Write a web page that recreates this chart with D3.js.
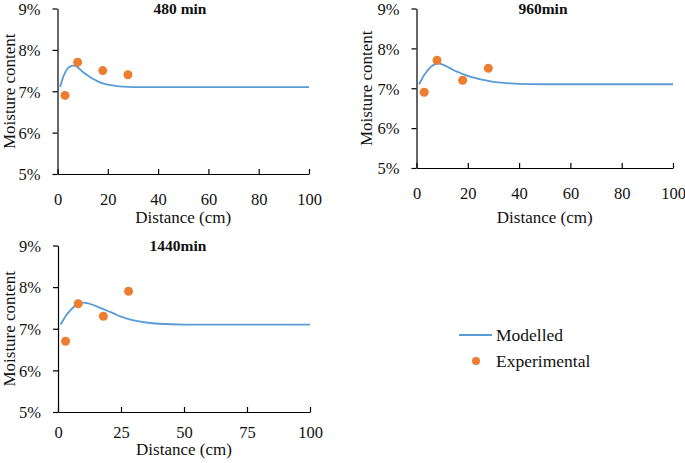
<!DOCTYPE html>
<html><head><meta charset="utf-8">
<script src="https://cdn.jsdelivr.net/npm/d3@7"></script>
<style>
body{margin:0;background:#fff;}
text{font-family:"Liberation Serif","Times New Roman",serif;fill:#111;}
</style></head>
<body><svg id="c" width="685" height="463"></svg>
<script>
// ---- data ----
const titles = ["480 min", "960min", "1440min"];
const model480X = [1,2,3,4,5,6,7,8,10,12,14,16,18,20,23,26,30,35,40,50,70,100];
const model480Y = [7.10,7.30,7.45,7.55,7.60,7.62,7.61,7.58,7.47,7.38,7.30,7.24,7.19,7.16,7.13,7.11,7.10,7.10,7.10,7.10,7.10,7.10];
const model960X = [1,2,3,4,5,6,7,8,9,10,12,14,16,18,20,22,25,30,35,40,50,100];
const model960Y = [7.10,7.22,7.33,7.42,7.50,7.56,7.60,7.62,7.62,7.60,7.54,7.47,7.41,7.36,7.31,7.27,7.22,7.16,7.13,7.11,7.10,7.10];
const model1440X = [1,2,3,4,5,6,7,8,9,10,12,14,16,18,20,22,25,28,30,35,40,50,100];
const model1440Y = [7.10,7.20,7.30,7.38,7.45,7.51,7.56,7.60,7.62,7.63,7.61,7.57,7.52,7.47,7.42,7.37,7.29,7.23,7.20,7.15,7.12,7.10,7.10];
const expX = [3, 8, 18, 28];
const exp480Y = [6.9, 7.7, 7.5, 7.4];
const exp960Y = [6.9, 7.7, 7.2, 7.5];
const exp1440Y = [6.7, 7.6, 7.3, 7.9];
const yTicks = [5, 6, 7, 8, 9];
const xTicksA = [0, 20, 40, 60, 80, 100];
const xTicksB = [0, 25, 50, 75, 100];
const legendLabels = ["Modelled", "Experimental"];

// ---- layout ----
const panels = [
  {title: titles[0], mx: model480X, my: model480Y, ey: exp480Y, xt: xTicksA,
   x0: 57.5, x1: 309, yTop: 8.5, yBot: 174, tx: 180, ty: 9, tickOff: 25, labOff: 43, ylx: 9.5},
  {title: titles[1], mx: model960X, my: model960Y, ey: exp960Y, xt: xTicksA,
   x0: 416.5, x1: 673, yTop: 8.5, yBot: 168, tx: 543, ty: 9, tickOff: 25, labOff: 49, ylx: 366},
  {title: titles[2], mx: model1440X, my: model1440Y, ey: exp1440Y, xt: xTicksB,
   x0: 58, x1: 310, yTop: 245.5, yBot: 412, tx: 178, ty: 246, tickOff: 20, labOff: 37, ylx: 9.5}
];
const blue = "#5B9BD5", orange = "#ED7D31";
const svg = d3.select("#c");
const FS = 16.5;

panels.forEach(p => {
  const x = d3.scaleLinear().domain([0, 100]).range([p.x0, p.x1]);
  const y = d3.scaleLinear().domain([5, 9]).range([p.yBot, p.yTop]);
  const g = svg.append("g");

  // y axis
  const ya = g.append("g").attr("transform", `translate(${p.x0},0)`)
    .call(d3.axisLeft(y).tickValues(yTicks).tickFormat(d => d + "%").tickSizeInner(5).tickSizeOuter(0).tickPadding(12));
  ya.select(".domain").attr("stroke", "#000").attr("stroke-width", 1.2);
  ya.selectAll(".tick line").attr("stroke", "#000").attr("stroke-width", 1.2);
  ya.selectAll(".tick text").attr("font-size", FS).attr("font-family", "Liberation Serif").attr("fill", "#111")
    .attr("dy", "0.35em");

  // x axis (ticks pointing up)
  const xa = g.append("g").attr("transform", `translate(0,${p.yBot})`)
    .call(d3.axisBottom(x).tickValues(p.xt).tickSizeInner(-5).tickSizeOuter(0).tickPadding(0));
  xa.select(".domain").attr("stroke", "#000").attr("stroke-width", 1.2);
  xa.selectAll(".tick line").attr("stroke", "#000").attr("stroke-width", 1.2);
  xa.selectAll(".tick text").attr("font-size", FS).attr("font-family", "Liberation Serif").attr("fill", "#111")
    .attr("y", p.tickOff).attr("dy", "0.35em");

  // axis titles
  g.append("text").attr("x", (p.x0 + p.x1) / 2).attr("y", p.yBot + p.labOff).attr("dy", "0.35em")
    .attr("text-anchor", "middle").attr("font-size", 17).text("Distance (cm)");
  g.append("text").attr("transform", `translate(${p.ylx},${(p.yTop + p.yBot) / 2}) rotate(-90)`)
    .attr("dy", "0.35em").attr("text-anchor", "middle").attr("font-size", 17).text("Moisture content");

  // title
  g.append("text").attr("x", p.tx).attr("y", p.ty).attr("dy", "0.35em").attr("text-anchor", "middle")
    .attr("font-size", 15.5).attr("font-weight", "bold").text(p.title);

  // model line
  const pts = p.mx.map((d, i) => [d, p.my[i]]);
  g.append("path").datum(pts)
    .attr("d", d3.line().x(d => x(d[0])).y(d => y(d[1])).curve(d3.curveMonotoneX))
    .attr("fill", "none").attr("stroke", blue).attr("stroke-width", 1.8);

  // experimental points
  g.selectAll("circle.e").data(expX.map((d, i) => [d, p.ey[i]])).enter().append("circle")
    .attr("cx", d => x(d[0])).attr("cy", d => y(d[1])).attr("r", 4.5).attr("fill", orange);
});

// legend
const lg = svg.append("g");
lg.append("line").attr("x1", 459).attr("x2", 492).attr("y1", 335).attr("y2", 335)
  .attr("stroke", blue).attr("stroke-width", 1.8);
lg.append("circle").attr("cx", 476).attr("cy", 361).attr("r", 4).attr("fill", orange);
lg.selectAll("text.l").data(legendLabels).enter().append("text")
  .attr("x", 496).attr("y", (d, i) => 335 + i * 26).attr("dy", "0.35em").attr("font-size", 17.5).text(d => d);
</script></body></html>
